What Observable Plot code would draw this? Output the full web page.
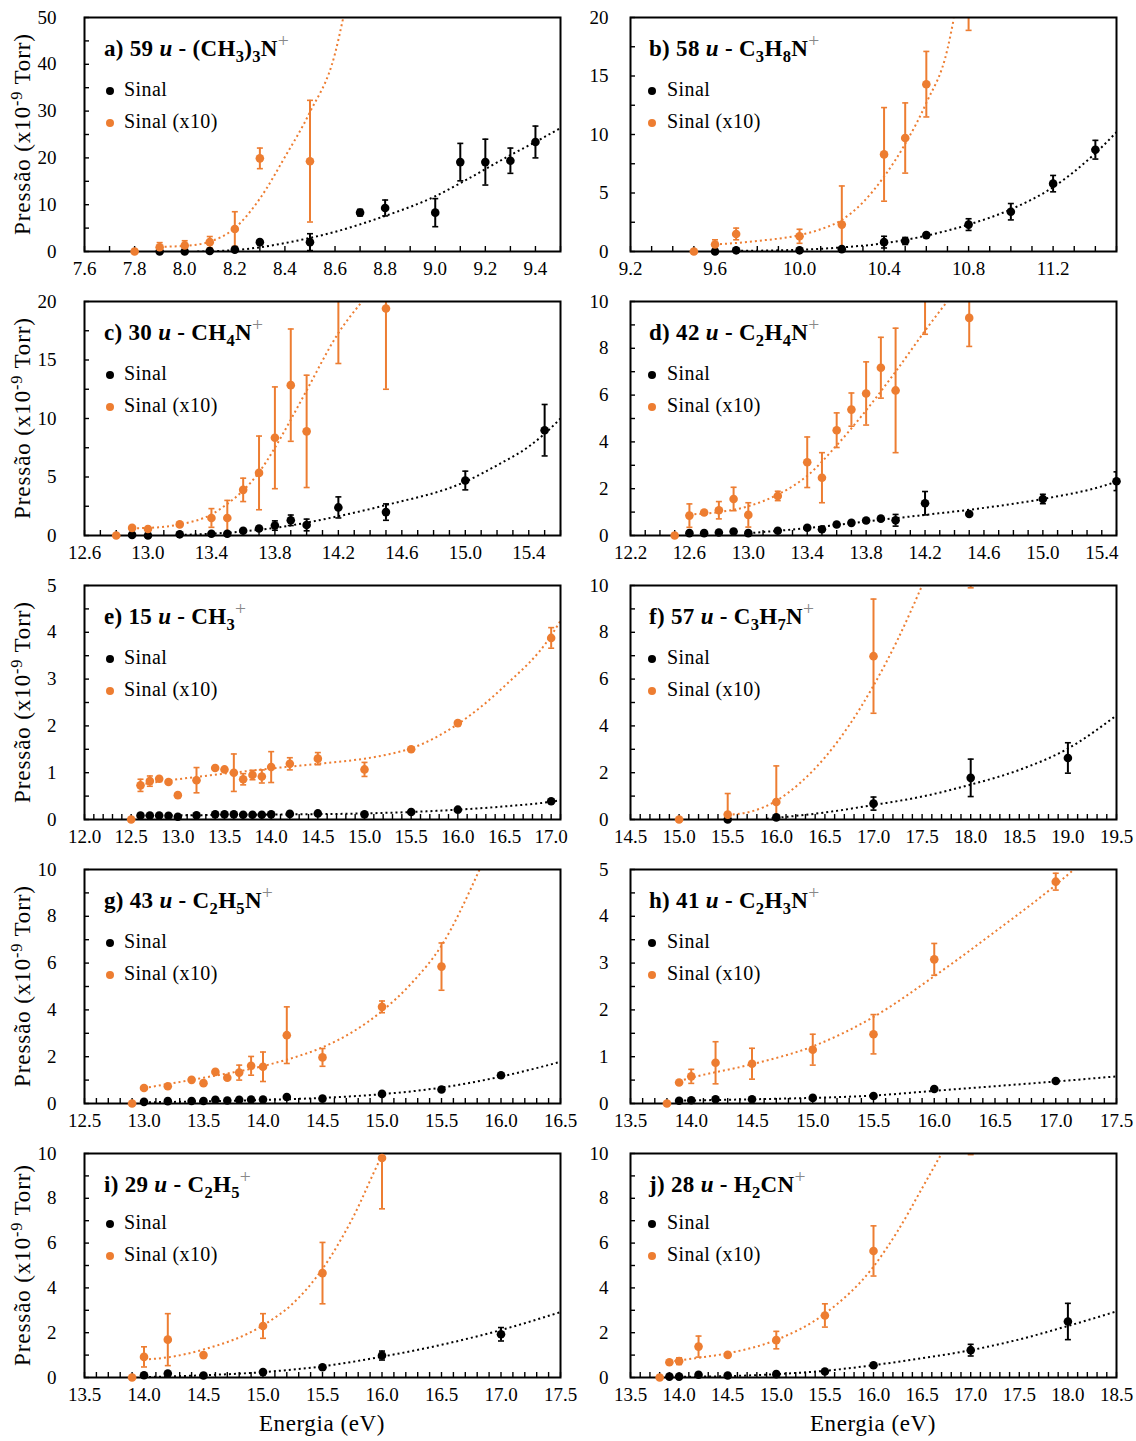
<!DOCTYPE html>
<html>
<head>
<meta charset="utf-8">
<script src="https://cdn.jsdelivr.net/npm/d3@7"></script>
<script src="https://cdn.jsdelivr.net/npm/@observablehq/plot@0.6"></script>
<style>
  html, body { margin: 0; padding: 0; background: #fff; }
  #root { position: relative; width: 1136px; height: 1441px; font-family: "Liberation Serif", "Times New Roman", serif; color: #000; overflow: hidden; }
  #root svg { position: absolute; }
  .ptitle { position: absolute; font-weight: bold; font-size: 23px; letter-spacing: 0.3px; white-space: nowrap; line-height: 1; }
  .ptitle .sb { font-size: 0.72em; position: relative; top: 0.35em; }
  .ptitle .sp { font-size: 0.85em; font-weight: normal; color: #888; position: relative; top: -0.45em; }
  .ptitle i { font-weight: bold; }
  .leg { position: absolute; font-size: 20px; letter-spacing: 0.4px; white-space: nowrap; line-height: 22px; height: 22px; }
  .legdot { position: absolute; width: 8px; height: 8px; border-radius: 50%; }
  .ytitle { position: absolute; font-size: 23px; letter-spacing: 0.9px; white-space: nowrap; transform: translate(-50%, -50%) rotate(-90deg); line-height: 1; }
  .ytitle sup { font-size: 0.7em; position: relative; top: -0.1em; vertical-align: top; }
  .xtitle { position: absolute; font-size: 23px; letter-spacing: 0.6px; white-space: nowrap; transform: translate(-50%, 0); line-height: 1; }
</style>
</head>
<body>
<div id="root"></div>
<script>
// ---------- labels ----------
const panelTitles = [
  "a) 59 <i>u</i> - (CH<span class='sb'>3</span>)<span class='sb'>3</span>N<span class='sp'>+</span>",
  "b) 58 <i>u</i> - C<span class='sb'>3</span>H<span class='sb'>8</span>N<span class='sp'>+</span>",
  "c) 30 <i>u</i> - CH<span class='sb'>4</span>N<span class='sp'>+</span>",
  "d) 42 <i>u</i> - C<span class='sb'>2</span>H<span class='sb'>4</span>N<span class='sp'>+</span>",
  "e) 15 <i>u</i> - CH<span class='sb'>3</span><span class='sp'>+</span>",
  "f) 57 <i>u</i> - C<span class='sb'>3</span>H<span class='sb'>7</span>N<span class='sp'>+</span>",
  "g) 43 <i>u</i> - C<span class='sb'>2</span>H<span class='sb'>5</span>N<span class='sp'>+</span>",
  "h) 41 <i>u</i> - C<span class='sb'>2</span>H<span class='sb'>3</span>N<span class='sp'>+</span>",
  "i) 29 <i>u</i> - C<span class='sb'>2</span>H<span class='sb'>5</span><span class='sp'>+</span>",
  "j) 28 <i>u</i> - H<span class='sb'>2</span>CN<span class='sp'>+</span>"
];
const legendLabels = ["Sinal", "Sinal (x10)"];
const yAxisTitle = "Pressão (x10<sup>-9</sup> Torr)";
const xAxisTitle = "Energia (eV)";

// ---------- axes ----------
const xDomains = [[7.6, 9.5], [9.2, 11.5], [12.6, 15.6], [12.2, 15.5], [12.0, 17.1],
                  [14.5, 19.5], [12.5, 16.5], [13.5, 17.5], [13.5, 17.5], [13.5, 18.5]];
const yMaxima = [50, 20, 20, 10, 5, 10, 10, 5, 10, 10];
const xMajorTicks = [
  [7.6, 7.8, 8.0, 8.2, 8.4, 8.6, 8.8, 9.0, 9.2, 9.4],
  [9.2, 9.6, 10.0, 10.4, 10.8, 11.2],
  [12.6, 13.0, 13.4, 13.8, 14.2, 14.6, 15.0, 15.4],
  [12.2, 12.6, 13.0, 13.4, 13.8, 14.2, 14.6, 15.0, 15.4],
  [12.0, 12.5, 13.0, 13.5, 14.0, 14.5, 15.0, 15.5, 16.0, 16.5, 17.0],
  [14.5, 15.0, 15.5, 16.0, 16.5, 17.0, 17.5, 18.0, 18.5, 19.0, 19.5],
  [12.5, 13.0, 13.5, 14.0, 14.5, 15.0, 15.5, 16.0, 16.5],
  [13.5, 14.0, 14.5, 15.0, 15.5, 16.0, 16.5, 17.0, 17.5],
  [13.5, 14.0, 14.5, 15.0, 15.5, 16.0, 16.5, 17.0, 17.5],
  [13.5, 14.0, 14.5, 15.0, 15.5, 16.0, 16.5, 17.0, 17.5, 18.0, 18.5]
];
const yMajorTicks = [
  [0, 10, 20, 30, 40, 50], [0, 5, 10, 15, 20], [0, 5, 10, 15, 20], [0, 2, 4, 6, 8, 10],
  [0, 1, 2, 3, 4, 5], [0, 2, 4, 6, 8, 10], [0, 2, 4, 6, 8, 10], [0, 1, 2, 3, 4, 5],
  [0, 2, 4, 6, 8, 10], [0, 2, 4, 6, 8, 10]
];
const xMinorSteps = [0.1, 0.1, 0.1, 0.1, 0.1, 0.1, 0.1, 0.1, 0.1, 0.1];
const yMinorSteps = [5, 2.5, 2.5, 1, 0.5, 1, 1, 0.5, 1, 1];

// ---------- data: [energy eV, pressure, error] ----------
const sinalA = [[7.9,0,0],[8.0,0,0],[8.1,0.1,0],[8.2,0.4,0.3],[8.3,2.0,0.5],[8.5,2.0,1.8],[8.7,8.3,0.7],[8.8,9.3,1.7],[9.0,8.3,3.0],[9.1,19.1,4.0],[9.2,19.1,4.9],[9.3,19.4,2.7],[9.4,23.4,3.4]];
const x10A = [[7.8,0,0],[7.9,0.9,1.0],[8.0,1.3,1.0],[8.1,2.0,1.2],[8.2,4.8,3.7],[8.3,19.9,2.2],[8.5,19.3,13.0]];
const fitSinalA = [[8.05,0],[8.1,0.05],[8.2,0.3],[8.3,0.9],[8.4,1.8],[8.5,2.9],[8.6,4.2],[8.7,5.8],[8.8,7.6],[9.0,11.8],[9.1,14.6],[9.2,17.6],[9.3,20.6],[9.4,23.4],[9.5,26.4]];
const fitX10A = [[7.9,1.0],[8.0,1.2],[8.1,2.1],[8.2,5.0],[8.3,11.3],[8.4,20.2],[8.5,29.8],[8.6,42.3],[8.633,50]];

const sinalB = [[9.6,0,0],[9.7,0.1,0],[10.0,0.1,0],[10.2,0.2,0.2],[10.4,0.8,0.5],[10.5,0.9,0.3],[10.6,1.4,0.2],[10.8,2.3,0.5],[11.0,3.4,0.7],[11.2,5.8,0.7],[11.4,8.7,0.8]];
const x10B = [[9.5,0,0],[9.6,0.6,0.4],[9.7,1.5,0.5],[10.0,1.3,0.6],[10.2,2.3,3.3],[10.4,8.3,4.0],[10.5,9.7,3.0],[10.6,14.3,2.8],[10.8,21.5,2.6]];
const fitSinalB = [[9.7,0.05],[10.0,0.15],[10.2,0.35],[10.4,0.7],[10.6,1.35],[10.8,2.3],[11.0,3.6],[11.2,5.5],[11.4,8.4],[11.5,10.2]];
const fitX10B = [[9.6,0.6],[9.8,0.9],[10.0,1.4],[10.1,1.9],[10.2,2.7],[10.3,4.2],[10.4,6.4],[10.5,9.2],[10.6,12.7],[10.7,17.3],[10.73,19.9]];

const sinalC = [[12.9,0.05,0],[13.0,0,0],[13.2,0.1,0],[13.4,0.15,0],[13.5,0.15,0],[13.6,0.4,0.1],[13.7,0.6,0.15],[13.8,0.85,0.4],[13.9,1.3,0.45],[14.0,0.9,0.5],[14.2,2.4,0.9],[14.5,2.0,0.7],[15.0,4.7,0.8],[15.5,9.0,2.2]];
const x10C = [[12.8,0,0],[12.9,0.65,0],[13.0,0.55,0],[13.2,0.95,0],[13.4,1.5,0.8],[13.5,1.5,1.5],[13.6,3.9,1.0],[13.7,5.35,3.15],[13.8,8.35,4.35],[13.9,12.85,4.8],[14.0,8.9,4.8],[14.2,21.5,6.8],[14.5,19.4,6.9]];
const fitSinalC = [[13.2,0.05],[13.4,0.15],[13.6,0.35],[13.8,0.65],[14.0,1.1],[14.2,1.65],[14.5,2.6],[15.0,4.6],[15.2,6.0],[15.4,7.6],[15.5,8.7],[15.6,10.0]];
const fitX10C = [[12.9,0.62],[13.0,0.65],[13.2,0.95],[13.4,1.8],[13.5,2.7],[13.6,3.85],[13.7,5.4],[13.8,7.5],[13.9,9.9],[14.0,12.4],[14.2,17.3],[14.35,20]];

const sinalD = [[12.6,0.1,0],[12.7,0.1,0],[12.8,0.13,0],[12.9,0.17,0],[13.0,0.1,0],[13.2,0.2,0],[13.4,0.33,0.08],[13.5,0.27,0.08],[13.6,0.47,0.05],[13.7,0.54,0.05],[13.8,0.64,0.06],[13.9,0.72,0.06],[14.0,0.65,0.25],[14.2,1.38,0.5],[14.5,0.92,0.06],[15.0,1.56,0.2],[15.5,2.32,0.4]];
const x10D = [[12.5,0,0],[12.6,0.85,0.5],[12.7,0.98,0.05],[12.8,1.08,0.37],[12.9,1.56,0.5],[13.0,0.88,0.52],[13.2,1.69,0.2],[13.4,3.13,1.08],[13.5,2.47,1.07],[13.6,4.5,0.74],[13.7,5.38,0.71],[13.8,6.07,1.35],[13.9,7.17,1.3],[14.0,6.2,2.66],[14.2,10.5,1.9],[14.5,9.3,1.22]];
const fitSinalD = [[13.0,0.1],[13.2,0.2],[13.4,0.32],[13.6,0.45],[13.8,0.6],[14.0,0.74],[14.2,0.88],[14.5,1.1],[15.0,1.56],[15.4,2.1],[15.59,2.5]];
const fitX10D = [[12.6,0.9],[12.8,1.0],[13.0,1.25],[13.2,1.75],[13.4,2.55],[13.6,3.85],[13.8,5.35],[14.0,7.0],[14.2,8.75],[14.35,10]];

const sinalE = [[12.6,0.085,0],[12.7,0.085,0],[12.8,0.085,0],[12.9,0.08,0],[13.0,0.06,0],[13.2,0.09,0],[13.4,0.11,0],[13.5,0.11,0],[13.6,0.11,0],[13.7,0.1,0],[13.8,0.1,0],[13.9,0.1,0],[14.0,0.11,0],[14.2,0.12,0],[14.5,0.13,0.03],[15.0,0.11,0.02],[15.5,0.16,0.03],[16.0,0.21,0.03],[17.0,0.39,0.02]];
const x10E = [[12.5,0,0],[12.6,0.73,0.13],[12.7,0.82,0.11],[12.8,0.87,0.03],[12.9,0.8,0.03],[13.0,0.52,0.05],[13.2,0.84,0.27],[13.4,1.1,0.03],[13.5,1.07,0.03],[13.6,1.0,0.4],[13.7,0.86,0.12],[13.8,0.95,0.1],[13.9,0.92,0.14],[14.0,1.12,0.33],[14.2,1.19,0.13],[14.5,1.3,0.13],[15.0,1.07,0.15],[15.5,1.5,0.02],[16.0,2.06,0.05],[17.0,3.88,0.22]];
const fitSinalE = [[12.6,0.085],[13.0,0.09],[14.0,0.105],[15.0,0.13],[15.5,0.16],[16.0,0.21],[16.5,0.28],[17.0,0.38],[17.1,0.41]];
const fitX10E = [[12.6,0.75],[13.0,0.86],[13.5,0.98],[14.0,1.09],[14.5,1.19],[15.0,1.3],[15.25,1.39],[15.5,1.52],[15.75,1.74],[16.0,2.04],[16.5,2.85],[17.0,3.93],[17.1,4.25]];

const sinalF = [[15.5,0,0],[16.0,0.09,0],[17.0,0.68,0.28],[18.0,1.78,0.8],[19.0,2.63,0.65]];
const x10F = [[15.0,0,0],[15.5,0.21,0.9],[16.0,0.75,1.54],[17.0,6.98,2.44],[18.0,12.6,2.7]];
const fitSinalF = [[15.9,0.03],[16.0,0.07],[16.5,0.3],[17.0,0.62],[17.5,0.98],[18.0,1.49],[18.5,2.12],[19.0,3.03],[19.5,4.45]];
const fitX10F = [[15.5,0.2],[15.75,0.35],[16.0,0.8],[16.25,1.58],[16.5,2.65],[16.75,4.03],[17.0,5.72],[17.25,7.7],[17.5,10]];

const sinalG = [[13.0,0.07,0],[13.2,0.1,0],[13.4,0.11,0],[13.5,0.11,0],[13.6,0.16,0],[13.7,0.13,0],[13.8,0.16,0],[13.9,0.17,0],[14.0,0.17,0],[14.2,0.28,0],[14.5,0.21,0],[15.0,0.41,0],[15.5,0.6,0],[16.0,1.21,0]];
const x10G = [[12.9,0,0],[13.0,0.66,0],[13.2,0.74,0],[13.4,1.01,0],[13.5,0.87,0],[13.6,1.35,0],[13.7,1.1,0],[13.8,1.32,0.32],[13.9,1.61,0.4],[14.0,1.57,0.63],[14.2,2.92,1.21],[14.5,1.97,0.38],[15.0,4.13,0.25],[15.5,5.85,1.01]];
const fitSinalG = [[13.0,0.05],[13.5,0.09],[14.0,0.15],[14.5,0.24],[15.0,0.4],[15.5,0.68],[16.0,1.15],[16.5,1.78]];
const fitX10G = [[13.0,0.66],[13.5,1.1],[14.0,1.6],[14.25,1.95],[14.5,2.4],[14.75,3.05],[15.0,3.95],[15.25,5.15],[15.5,6.75],[15.82,10]];

const sinalH = [[13.9,0.06,0],[14.0,0.07,0],[14.2,0.09,0],[14.5,0.09,0],[15.0,0.12,0],[15.5,0.16,0],[16.0,0.31,0],[17.0,0.48,0]];
const x10H = [[13.8,0,0],[13.9,0.45,0],[14.0,0.58,0.15],[14.2,0.87,0.45],[14.5,0.85,0.33],[15.0,1.15,0.33],[15.5,1.48,0.42],[16.0,3.08,0.34],[17.0,4.74,0.18]];
const fitSinalH = [[13.9,0.06],[14.5,0.09],[15.0,0.12],[15.5,0.17],[16.0,0.27],[16.5,0.37],[17.0,0.47],[17.5,0.58]];
const fitX10H = [[13.9,0.48],[14.0,0.55],[14.5,0.84],[15.0,1.22],[15.5,1.85],[16.0,2.72],[16.5,3.67],[17.0,4.67],[17.15,5.0]];

const sinalI = [[14.0,0.1,0],[14.2,0.18,0],[14.5,0.09,0],[15.0,0.24,0],[15.5,0.46,0],[16.0,0.98,0.2],[17.0,1.93,0.3]];
const x10I = [[13.9,0,0],[14.0,0.92,0.45],[14.2,1.69,1.16],[14.5,1.0,0.05],[15.0,2.3,0.55],[15.5,4.66,1.37],[16.0,9.8,2.27]];
const fitSinalI = [[14.0,0.02],[14.5,0.1],[15.0,0.24],[15.5,0.5],[16.0,0.93],[16.5,1.46],[17.0,2.12],[17.5,2.92]];
const fitX10I = [[14.0,0.8],[14.2,0.9],[14.5,1.25],[15.0,2.33],[15.25,3.3],[15.5,4.85],[15.75,7.08],[16.0,9.9],[16.01,10]];

const sinalJ = [[13.9,0.04,0],[14.0,0.04,0],[14.2,0.12,0],[14.5,0.09,0],[15.0,0.15,0],[15.5,0.27,0.05],[16.0,0.55,0],[17.0,1.22,0.26],[18.0,2.5,0.81]];
const x10J = [[13.8,0,0],[13.9,0.68,0],[14.0,0.73,0.15],[14.2,1.38,0.47],[14.5,1.01,0.05],[15.0,1.67,0.39],[15.5,2.77,0.52],[16.0,5.65,1.12],[17.0,11.5,1.55]];
const fitSinalJ = [[14.0,0.03],[14.5,0.06],[15.0,0.15],[15.5,0.3],[16.0,0.55],[16.5,0.86],[17.0,1.22],[17.5,1.7],[18.0,2.3],[18.5,2.95]];
const fitX10J = [[13.9,0.71],[14.2,0.88],[14.5,1.08],[15.0,1.68],[15.5,2.85],[16.0,4.95],[16.25,6.55],[16.5,8.45],[16.7,10]];

const sinalSeries = [sinalA, sinalB, sinalC, sinalD, sinalE, sinalF, sinalG, sinalH, sinalI, sinalJ];
const x10Series = [x10A, x10B, x10C, x10D, x10E, x10F, x10G, x10H, x10I, x10J];
const fitSinalSeries = [fitSinalA, fitSinalB, fitSinalC, fitSinalD, fitSinalE, fitSinalF, fitSinalG, fitSinalH, fitSinalI, fitSinalJ];
const fitX10Series = [fitX10A, fitX10B, fitX10C, fitX10D, fitX10E, fitX10F, fitX10G, fitX10H, fitX10I, fitX10J];

// ---------- rendering ----------
const BLACK = "#000000";
const ORANGE = "#ED7D31";
const FONT = '"Liberation Serif", "Times New Roman", serif';

const capSymbol = {
  draw(context, size) {
    const w = Math.sqrt(size / Math.PI);
    context.moveTo(-w, 0);
    context.lineTo(w, 0);
  }
};

function stepTicks([a, b], step) {
  const n0 = Math.ceil(a / step - 1e-6), n1 = Math.floor(b / step + 1e-6);
  return d3.range(n0, n1 + 1).map(k => +(k * step).toFixed(4));
}

function seriesMarks(data, fit, color) {
  const withErr = data.filter(d => d[2] > 0);
  return [
    Plot.line(fit, {x: d => d[0], y: d => d[1], stroke: color, strokeWidth: 2,
      strokeDasharray: "2 3", strokeLinecap: "butt", curve: "monotone-x", clip: true}),
    Plot.ruleX(withErr, {x: d => d[0], y1: d => d[1] - d[2], y2: d => d[1] + d[2],
      stroke: color, strokeWidth: 2, clip: true}),
    Plot.dot(withErr, {x: d => d[0], y: d => d[1] + d[2], symbol: capSymbol, r: 3,
      fill: "none", stroke: color, strokeWidth: 1.6, clip: true}),
    Plot.dot(withErr, {x: d => d[0], y: d => d[1] - d[2], symbol: capSymbol, r: 3,
      fill: "none", stroke: color, strokeWidth: 1.6, clip: true}),
  ];
}

const root = document.getElementById("root");

for (let i = 0; i < 10; i++) {
  const col = i % 2, row = Math.floor(i / 2);
  const last = row === 4;
  const W = 568;
  const H = last ? 305 : 284;
  const mL = col ? 62 : 84, mR = col ? 20 : 8, mT = 17;
  const frameH = last ? 224 : 234;
  const mB = H - mT - frameH;
  const yMax = yMaxima[i];
  const xd = xDomains[i];

  const svg = Plot.plot({
    width: W, height: H,
    marginLeft: mL, marginRight: mR, marginTop: mT, marginBottom: mB,
    x: {domain: xd},
    y: {domain: [0, yMax]},
    style: {fontFamily: FONT, fontSize: "19px", color: "#000", background: "transparent", overflow: "visible"},
    marks: [
      Plot.axisX({ticks: stepTicks(xd, xMinorSteps[i]), tickSize: -5, strokeWidth: 1.4, tickFormat: () => "", label: null}),
      Plot.axisX({ticks: xMajorTicks[i], tickSize: 0, tickPadding: 10, tickFormat: d => d.toFixed(1), label: null, fontSize: 19}),
      Plot.axisY({ticks: stepTicks([0, yMax], yMinorSteps[i]), tickSize: -5, strokeWidth: 1.4, tickFormat: () => "", label: null}),
      Plot.axisY({ticks: yMajorTicks[i], tickSize: 0, tickPadding: col ? 22 : 28, tickFormat: d => String(d), label: null, fontSize: 19}),
      ...seriesMarks(sinalSeries[i], fitSinalSeries[i], BLACK),
      ...seriesMarks(x10Series[i], fitX10Series[i], ORANGE),
      Plot.frame({stroke: "#000", strokeWidth: 2}),
      Plot.dot(sinalSeries[i].filter(d => d[1] <= yMax), {x: d => d[0], y: d => d[1], r: 4.3, fill: BLACK, stroke: "none"}),
      Plot.dot(x10Series[i].filter(d => d[1] <= yMax), {x: d => d[0], y: d => d[1], r: 4.3, fill: ORANGE, stroke: "none"})
    ]
  });
  const left = col * 568, top = row * 284;
  svg.style.left = left + "px";
  svg.style.top = top + "px";
  root.appendChild(svg);

  const frameLeft = left + mL, frameTop = top + mT;

  const t = document.createElement("div");
  t.className = "ptitle";
  t.innerHTML = panelTitles[i];
  t.style.left = (frameLeft + (col ? 19 : 20)) + "px";
  t.style.top = (frameTop + 20) + "px";
  root.appendChild(t);

  const legTop = frameTop + (last ? 69 : 72);
  [BLACK, ORANGE].forEach((c, k) => {
    const cy = legTop + k * 32;
    const dot = document.createElement("div");
    dot.className = "legdot";
    dot.style.background = c;
    dot.style.left = (frameLeft + (col ? 22 : 26) - 4) + "px";
    dot.style.top = (cy - 2) + "px";
    root.appendChild(dot);
    const lab = document.createElement("div");
    lab.className = "leg";
    lab.textContent = legendLabels[k];
    lab.style.left = (frameLeft + (col ? 37 : 40)) + "px";
    lab.style.top = (cy - 11) + "px";
    root.appendChild(lab);
  });

  if (col === 0) {
    const yt = document.createElement("div");
    yt.className = "ytitle";
    yt.innerHTML = yAxisTitle;
    yt.style.left = "22px";
    yt.style.top = (frameTop + frameH / 2) + "px";
    root.appendChild(yt);
  }
  if (last) {
    const xt = document.createElement("div");
    xt.className = "xtitle";
    xt.textContent = xAxisTitle;
    xt.style.left = (frameLeft + (W - mL - mR) / 2) + "px";
    xt.style.top = (frameTop + frameH + 35) + "px";
    root.appendChild(xt);
  }
}
</script>
</body>
</html>
